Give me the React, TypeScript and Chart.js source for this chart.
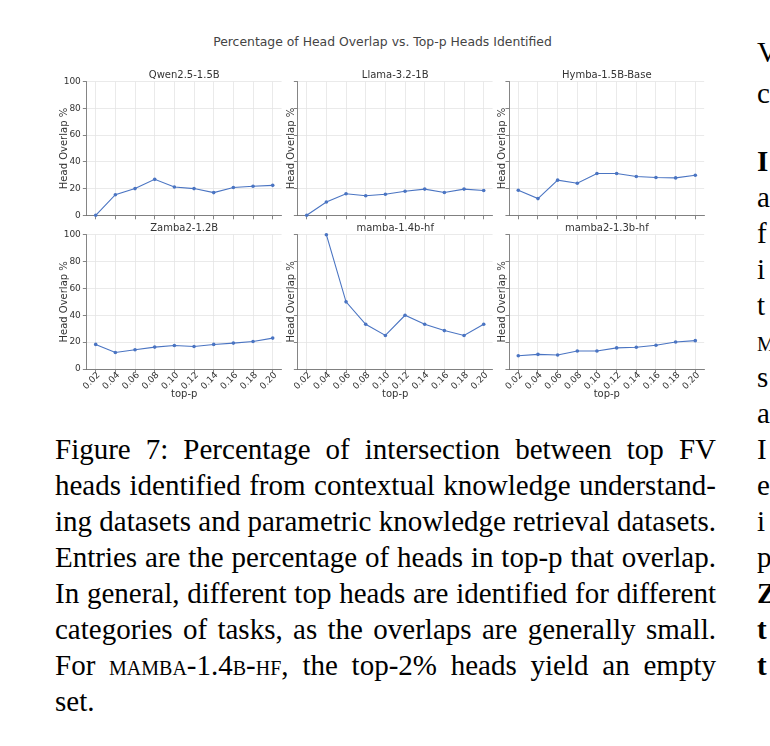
import React, { useEffect, useRef } from "react";
import { Chart, registerables } from "chart.js";

Chart.register(...registerables);

// ---------------- data ----------------
const topP = [0.02, 0.04, 0.06, 0.08, 0.1, 0.12, 0.14, 0.16, 0.18, 0.2];
const yTicks = [0, 20, 40, 60, 80, 100];

const qwenValues = [0, 15.4, 20, 26.9, 21.2, 20, 17, 20.8, 21.7, 22.4];
const llamaValues = [0, 10, 16.1, 14.6, 15.7, 18.0, 19.6, 17.1, 19.6, 18.6];
const hymbaValues = [18.75, 12.5, 26.3, 24.0, 31.25, 31.25, 29.0, 28.3, 28.0, 30.0];
const zambaValues = [18.3, 12.3, 14.3, 16.3, 17.5, 16.8, 18.3, 19.3, 20.5, 23.0];
const mambaValues: (number | null)[] = [null, 100, 50, 33.3, 25, 40, 33.3, 28.6, 25, 33.3];
const mamba2Values = [9.9, 10.9, 10.4, 13.4, 13.4, 15.7, 16.2, 17.7, 20.1, 21.1];

const modelNames = [
  "Qwen2.5-1.5B",
  "Llama-3.2-1B",
  "Hymba-1.5B-Base",
  "Zamba2-1.2B",
  "mamba-1.4b-hf",
  "mamba2-1.3b-hf",
];
const modelValues: (number | null)[][] = [
  qwenValues,
  llamaValues,
  hymbaValues,
  zambaValues,
  mambaValues,
  mamba2Values,
];

const suptitle = "Percentage of Head Overlap vs. Top-p Heads Identified";
const yAxisTitle = "Head Overlap %";
const xAxisTitle = "top-p";

const captionLines = [
  "Figure 7: Percentage of intersection between top FV",
  "heads identified from contextual knowledge understand-",
  "ing datasets and parametric knowledge retrieval datasets.",
  "Entries are the percentage of heads in top-p that overlap.",
  "In general, different top heads are identified for different",
  "categories of tasks, as the overlaps are generally small.",
];

const rightColumnWords = [
  { t: "V", bold: false, sc: false, y: 52 },
  { t: "c", bold: false, sc: false, y: 93 },
  { t: "I", bold: true, sc: false, y: 161 },
  { t: "a", bold: false, sc: false, y: 197 },
  { t: "f", bold: false, sc: false, y: 233 },
  { t: "i", bold: false, sc: false, y: 269 },
  { t: "t", bold: false, sc: false, y: 305 },
  { t: "m", bold: false, sc: true, y: 341 },
  { t: "s", bold: false, sc: false, y: 377 },
  { t: "a", bold: false, sc: false, y: 413 },
  { t: "I", bold: false, sc: false, y: 449 },
  { t: "e", bold: false, sc: false, y: 485 },
  { t: "i", bold: false, sc: false, y: 521 },
  { t: "p", bold: false, sc: false, y: 557 },
  { t: "Z", bold: true, sc: false, y: 593 },
  { t: "t", bold: true, sc: false, y: 629 },
  { t: "t", bold: true, sc: false, y: 665 },
];

// ---------------- layout ----------------
const LINE_COLOR = "#4a74c2";
const FONT = "'DejaVu Sans', sans-serif";
const SERIF = "'Liberation Serif', 'Times New Roman', serif";
const plotLefts = [86.85, 297.85, 509.45];
const plotW = 194.7;
const plotTops = [81.7, 234.7];
const plotHs = [133.6, 134.3];
const yTitleCenters = [64, 291, 502.5];

const subtitlePlugin = {
  id: "subtitlePlugin",
  afterDraw(chart: any, _args: any, opts: any) {
    const { ctx, chartArea } = chart;
    ctx.save();
    ctx.font = `10px ${FONT}`;
    ctx.fillStyle = "#333";
    ctx.textAlign = "center";
    ctx.textBaseline = "middle";
    ctx.fillText(opts.text, (chartArea.left + chartArea.right) / 2, chartArea.top - 6.5);
    ctx.restore();
  },
};

function Panel({ index }: { index: number }) {
  const ref = useRef<HTMLCanvasElement | null>(null);
  const row = Math.floor(index / 3);
  const col = index % 3;
  const plotLeft = plotLefts[col];
  const plotTop = plotTops[row];
  const plotH = plotHs[row];
  const CL = Math.round(plotLeft - 40);
  const CT = Math.round(plotTop - 20);
  const YW = plotLeft - CL;
  const PT = plotTop - CT;
  const CW = 245;
  const PR = CW - YW - plotW;
  const CH = row === 0 ? 162 : 185;
  const XH = CH - PT - plotH;
  const titlePad = yTitleCenters[col] - 6 - CL;

  useEffect(() => {
    if (!ref.current) return;
    const values = modelValues[index];
    const chart = new Chart(ref.current, {
      type: "line",
      data: {
        datasets: [
          {
            data: topP.map((x, i) => ({ x, y: values[i] })) as any,
            borderColor: LINE_COLOR,
            backgroundColor: LINE_COLOR,
            borderWidth: 1.1,
            pointRadius: 1.8,
            pointBorderWidth: 0,
            pointBackgroundColor: LINE_COLOR,
            fill: false,
            tension: 0,
            clip: false as any,
            spanGaps: false,
          },
        ],
      },
      plugins: [subtitlePlugin],
      options: {
        responsive: false,
        animation: false,
        devicePixelRatio: 1,
        layout: { padding: { left: 0, top: PT, right: PR, bottom: 0 } },
        plugins: {
          legend: { display: false },
          tooltip: { enabled: false },
          title: { display: false },
          subtitlePlugin: { text: modelNames[index] },
        } as any,
        scales: {
          x: {
            type: "linear",
            min: 0.011,
            max: 0.209,
            afterBuildTicks: (s: any) => {
              s.ticks = topP.map((v) => ({ value: v }));
            },
            afterFit: (s: any) => {
              s.height = XH;
              s.paddingLeft = 0;
              s.paddingRight = 0;
            },
            ticks: {
              autoSkip: false,
              minRotation: 45,
              maxRotation: 45,
              padding: -3,
              labelOffset: 3,
              color: "#333",
              font: { family: FONT, size: 9 },
              callback: (v: any) => (row === 1 ? Number(v).toFixed(2) : ""),
            },
            grid: {
              color: "#e4e4e4",
              lineWidth: 0.8,
              tickColor: "#666",
              tickLength: 4,
              drawTicks: true,
            },
            border: { display: true, color: "#666", width: 0.8 },
            title: {
              display: row === 1,
              text: xAxisTitle,
              color: "#333",
              font: { family: FONT, size: 10 },
              padding: { top: 0, bottom: 0 },
            },
          },
          y: {
            type: "linear",
            min: 0,
            max: 100,
            afterBuildTicks: (s: any) => {
              s.ticks = yTicks.map((v) => ({ value: v }));
            },
            afterFit: (s: any) => {
              s.width = YW;
              s.paddingTop = 0;
              s.paddingBottom = 0;
            },
            ticks: {
              autoSkip: false,
              padding: 2,
              color: "#333",
              font: { family: FONT, size: 9 },
              callback: (v: any) => (col === 0 ? String(v) : ""),
            },
            grid: {
              color: "#e4e4e4",
              lineWidth: 0.8,
              tickColor: "#666",
              tickLength: 4,
              drawTicks: true,
            },
            border: { display: true, color: "#666", width: 0.8 },
            title: {
              display: true,
              text: yAxisTitle,
              color: "#333",
              font: { family: FONT, size: 10 },
              padding: { top: titlePad, bottom: 0 },
            },
          },
        },
      },
    });
    return () => chart.destroy();
  }, [index]);

  return (
    <canvas
      ref={ref}
      width={CW}
      height={CH}
      style={{ position: "absolute", left: CL, top: CT, width: CW, height: CH }}
    />
  );
}

export default function App() {
  return (
    <div
      style={{
        position: "absolute",
        left: 0,
        top: 0,
        width: 770,
        height: 746,
        overflow: "hidden",
        background: "#fff",
      }}
    >
      <div
        style={{
          position: "absolute",
          left: 0,
          width: 765,
          top: 34.7,
          lineHeight: "14px",
          textAlign: "center",
          fontFamily: FONT,
          fontSize: 12.4,
          color: "#444",
        }}
      >
        {suptitle}
      </div>
      {[0, 1, 2, 3, 4, 5].map((i) => (
        <Panel key={i} index={i} />
      ))}
      <div
        style={{
          position: "absolute",
          left: 55,
          top: 431,
          width: 661,
          fontFamily: SERIF,
          fontSize: 29,
          lineHeight: "36px",
          wordSpacing: -2.5,
          color: "#000",
        }}
      >
        {captionLines.map((l, i) => (
          <div key={i} style={{ textAlign: "justify", textAlignLast: "justify", whiteSpace: "nowrap" }}>
            {l}
          </div>
        ))}
        <div style={{ textAlign: "justify", textAlignLast: "justify", whiteSpace: "nowrap" }}>
          For <span style={{ fontVariant: "small-caps" }}>mamba-1.4b-hf</span>, the top-2% heads yield an empty
        </div>
        <div style={{ wordSpacing: 0 }}>set.</div>
      </div>
      {rightColumnWords.map((w, i) => (
        <div
          key={i}
          style={{
            position: "absolute",
            left: 757,
            top: w.y - 18,
            lineHeight: "36px",
            fontFamily: SERIF,
            fontSize: 29,
            fontWeight: w.bold ? "bold" : "normal",
            fontVariant: w.sc ? "small-caps" : "normal",
            whiteSpace: "nowrap",
            color: "#000",
          }}
        >
          {w.t}
        </div>
      ))}
    </div>
  );
}
